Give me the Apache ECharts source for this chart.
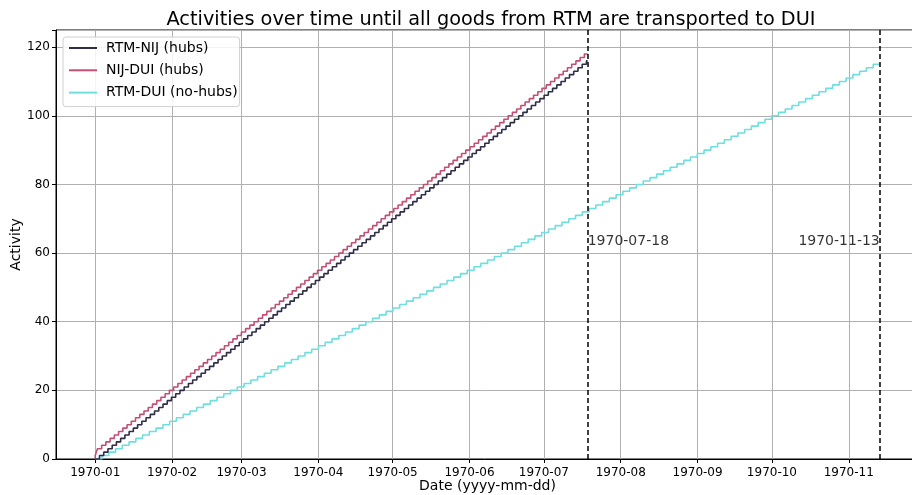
<!DOCTYPE html>
<html>
<head>
<meta charset="utf-8">
<script src="https://cdn.jsdelivr.net/npm/echarts@6/dist/echarts.min.js"></script>
<style>
  html, body { margin: 0; padding: 0; background: #ffffff; }
  #chart { width: 912px; height: 495px; }
</style>
</head>
<body>
<div id="chart"></div>
<script>
// Simulation hours (since 1970-01-01 00:00 UTC) at which each activity count was reached.
// The n-th entry of each list is the moment the count became n.
const rtmNijStepHours = [
  41, 82, 123, 164, 205, 246, 287, 328, 369, 410,
  451, 492, 533, 574, 615, 656, 697, 738, 779, 820,
  861, 902, 943, 984, 1025, 1066, 1107, 1148, 1189, 1230,
  1271, 1312, 1353, 1394, 1435, 1476, 1517, 1558, 1599, 1640,
  1681, 1722, 1763, 1804, 1845, 1886, 1927, 1968, 2009, 2050,
  2091, 2132, 2173, 2214, 2255, 2296, 2337, 2378, 2419, 2460,
  2501, 2542, 2583, 2624, 2665, 2706, 2747, 2788, 2829, 2870,
  2911, 2952, 2993, 3034, 3075, 3116, 3157, 3198, 3239, 3280,
  3321, 3362, 3403, 3444, 3485, 3526, 3567, 3608, 3649, 3690,
  3731, 3772, 3813, 3854, 3895, 3936, 3977, 4018, 4059, 4100,
  4141, 4182, 4223, 4264, 4305, 4346, 4387, 4428, 4469, 4510,
  4551, 4592, 4633, 4674, 4715, 4756
];
const nijDuiStepHours = [
  0, 10, 21, 62, 103, 144, 185, 226, 267, 308, 349, 390,
  431, 472, 513, 554, 595, 636, 677, 718, 759, 800,
  841, 882, 923, 964, 1005, 1046, 1087, 1128, 1169, 1210,
  1251, 1292, 1333, 1374, 1415, 1456, 1497, 1538, 1579, 1620,
  1661, 1702, 1743, 1784, 1825, 1866, 1907, 1948, 1989, 2030,
  2071, 2112, 2153, 2194, 2235, 2276, 2317, 2358, 2399, 2440,
  2481, 2522, 2563, 2604, 2645, 2686, 2727, 2768, 2809, 2850,
  2891, 2932, 2973, 3014, 3055, 3096, 3137, 3178, 3219, 3260,
  3301, 3342, 3383, 3424, 3465, 3506, 3547, 3588, 3629, 3670,
  3711, 3752, 3793, 3834, 3875, 3916, 3957, 3998, 4039, 4080,
  4121, 4162, 4203, 4244, 4285, 4326, 4367, 4408, 4449, 4490,
  4531, 4572, 4613, 4654, 4695, 4736
];
const rtmDuiStepHours = [
  65.5, 131, 196.5, 262, 327.5, 393, 458.5, 524, 589.5, 655,
  720.5, 786, 851.5, 917, 982.5, 1048, 1113.5, 1179, 1244.5, 1310,
  1375.5, 1441, 1506.5, 1572, 1637.5, 1703, 1768.5, 1834, 1899.5, 1965,
  2030.5, 2096, 2161.5, 2227, 2292.5, 2358, 2423.5, 2489, 2554.5, 2620,
  2685.5, 2751, 2816.5, 2882, 2947.5, 3013, 3078.5, 3144, 3209.5, 3275,
  3340.5, 3406, 3471.5, 3537, 3602.5, 3668, 3733.5, 3799, 3864.5, 3930,
  3995.5, 4061, 4126.5, 4192, 4257.5, 4323, 4388.5, 4454, 4519.5, 4585,
  4650.5, 4716, 4781.5, 4847, 4912.5, 4978, 5043.5, 5109, 5174.5, 5240,
  5305.5, 5371, 5436.5, 5502, 5567.5, 5633, 5698.5, 5764, 5829.5, 5895,
  5960.5, 6026, 6091.5, 6157, 6222.5, 6288, 6353.5, 6419, 6484.5, 6550,
  6615.5, 6681, 6746.5, 6812, 6877.5, 6943, 7008.5, 7074, 7139.5, 7205,
  7270.5, 7336, 7401.5, 7467, 7532.5
];

// Moments the last transport of each scenario finishes (hours)
const hubsEndHour = 4768;
const noHubsEndHour = 7596;
const finishLabels = ['1970-07-18', '1970-11-13'];

const seriesNames = ['RTM-NIJ (hubs)', 'NIJ-DUI (hubs)', 'RTM-DUI (no-hubs)'];
const seriesColors = ['#2e2e48', '#c14f74', '#6fdede'];

const yTicks = [0, 20, 40, 60, 80, 100, 120];
const yMax = 125;
const xPadHours = 380;

const HOUR = 3600 * 1000;

// Turn step hours into a cumulative [time, count] staircase that holds until the end time.
function staircase(stepHours, endHour) {
  const pts = [[0, 0]];
  stepHours.forEach((h, i) => pts.push([h * HOUR, i + 1]));
  pts.push([endHour * HOUR, stepHours.length]);
  return pts;
}

const lines = [
  staircase(rtmNijStepHours, hubsEndHour),
  staircase(nijDuiStepHours, hubsEndHour),
  staircase(rtmDuiStepHours, noHubsEndHour)
];

function pad(n) { return (n < 10 ? '0' : '') + n; }

const font = 'DejaVu Sans';
const chart = echarts.init(document.getElementById('chart'), null, { renderer: 'canvas' });

const series = seriesNames.map((name, i) => ({
  name: name,
  type: 'line',
  step: 'end',
  symbol: 'none',
  data: lines[i],
  lineStyle: { color: seriesColors[i], width: 1.6 },
  itemStyle: { color: seriesColors[i] },
  emphasis: { disabled: true },
  animation: false,
  z: 3 - i
}));

// Dashed finish lines
series.push({
  type: 'line',
  data: [],
  silent: true,
  animation: false,
  markLine: {
    symbol: ['none', 'none'],
    silent: true,
    animation: false,
    label: { show: false },
    lineStyle: { color: '#000000', type: [5, 3], width: 1.5 },
    data: [{ xAxis: hubsEndHour * HOUR }, { xAxis: noHubsEndHour * HOUR }]
  }
});

// Finish date annotations
series.push({
  type: 'scatter',
  symbolSize: 0,
  silent: true,
  animation: false,
  data: [
    { value: [hubsEndHour * HOUR, yMax / 2], label: { align: 'left' } },
    { value: [noHubsEndHour * HOUR, yMax / 2], label: { align: 'right' } }
  ],
  label: {
    show: true,
    position: [0, 0],
    offset: [0, 4],
    verticalAlign: 'bottom',
    fontFamily: font,
    fontSize: 14,
    color: '#000000',
    formatter: (p) => finishLabels[p.dataIndex]
  }
});

chart.setOption({
  backgroundColor: '#ffffff',
  useUTC: true,
  animation: false,
  title: {
    text: 'Activities over time until all goods from RTM are transported to DUI',
    left: 486,
    textAlign: 'center',
    top: 5,
    textStyle: { fontFamily: font, fontSize: 19.3, fontWeight: 'normal', color: '#000000' }
  },
  legend: {
    data: seriesNames,
    orient: 'vertical',
    left: 63,
    top: 37,
    itemWidth: 28,
    itemHeight: 12,
    itemGap: 8.3,
    padding: [4, 2, 7, 5],
    backgroundColor: 'rgba(255,255,255,0.85)',
    borderColor: '#d0d0d0',
    borderWidth: 1,
    borderRadius: 3,
    itemStyle: { opacity: 0 },
    textStyle: { fontFamily: font, fontSize: 14, color: '#000000', padding: [0, 0, 0, 4] }
  },
  grid: {
    left: 56, right: -7, top: 30, bottom: 36,
    outerBoundsMode: 'none', containLabel: false,
    show: true, borderColor: '#000000', borderWidth: 1, backgroundColor: 'transparent'
  },
  xAxis: {
    type: 'time',
    min: -xPadHours * HOUR,
    max: (noHubsEndHour + xPadHours) * HOUR,
    minInterval: 28 * 24 * HOUR,
    maxInterval: 31 * 24 * HOUR,
    name: 'Date (yyyy-mm-dd)',
    nameLocation: 'middle',
    nameGap: 20,
    nameMoveOverlap: false,
    nameTextStyle: { fontFamily: font, fontSize: 14, color: '#000000' },
    axisLine: { lineStyle: { color: '#000000', width: 1 } },
    axisTick: { show: true, length: 4, lineStyle: { color: '#000000' } },
    axisLabel: {
      fontFamily: font, fontSize: 12, color: '#000000', margin: 8,
      showMinLabel: false, showMaxLabel: false,
      formatter: (v) => { const d = new Date(v); return d.getUTCFullYear() + '-' + pad(d.getUTCMonth() + 1); }
    },
    splitLine: { show: true, lineStyle: { color: '#b0b0b0', width: 1 } }
  },
  yAxis: {
    type: 'value',
    min: 0,
    max: yMax,
    interval: 20,
    name: 'Activity',
    nameLocation: 'middle',
    nameGap: 33,
    nameMoveOverlap: false,
    nameTextStyle: { fontFamily: font, fontSize: 14, color: '#000000' },
    axisLine: { show: true, lineStyle: { color: '#000000', width: 1 } },
    axisTick: { show: true, length: 4, lineStyle: { color: '#000000' } },
    axisLabel: {
      fontFamily: font, fontSize: 12, color: '#000000', margin: 6,
      formatter: (v) => (yTicks.indexOf(v) >= 0 ? String(v) : '')
    },
    splitLine: { show: true, lineStyle: { color: '#b0b0b0', width: 1 } }
  },
  series: series
});
</script>
</body>
</html>
